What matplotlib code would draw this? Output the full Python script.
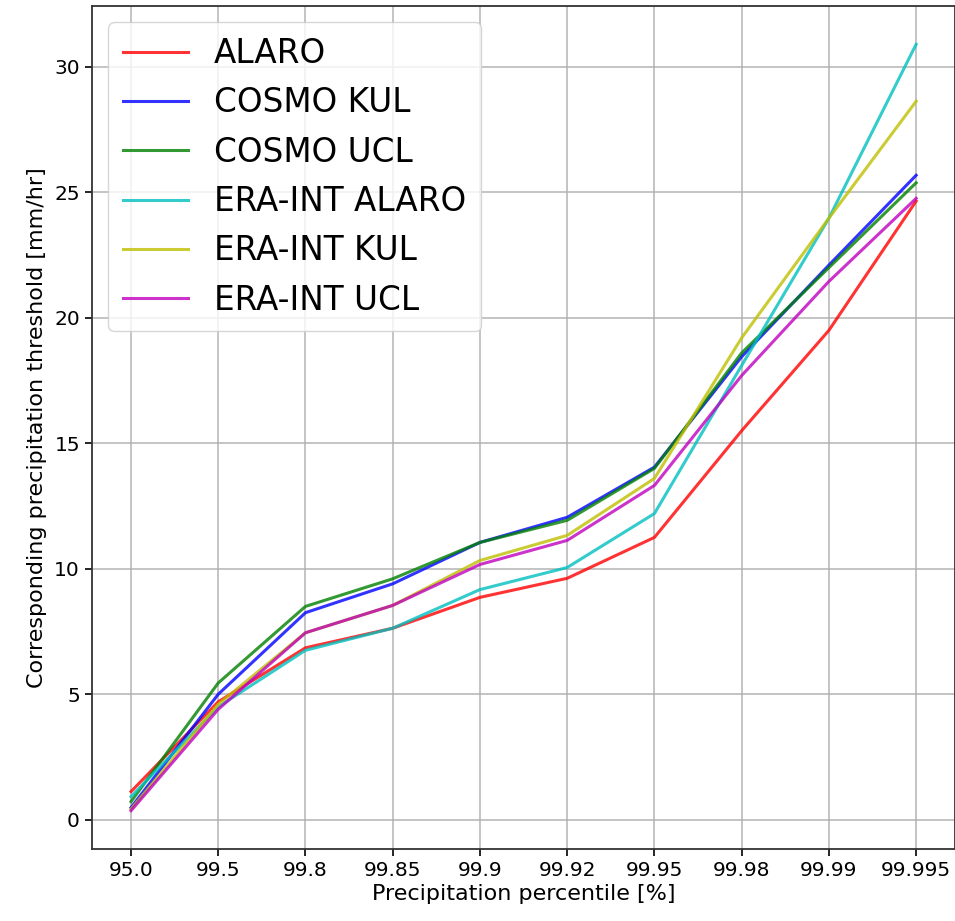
import numpy as np
import matplotlib
matplotlib.use("Agg")
import matplotlib.pyplot as plt

# Percentile categories (x axis) and thresholds per model [mm/hr]
percentiles = ["95.0", "99.5", "99.8", "99.85", "99.9", "99.92", "99.95", "99.98", "99.99", "99.995"]

alaro = [1.12, 4.7, 6.85, 7.63, 8.86, 9.62, 11.25, 15.5, 19.5, 24.65]
cosmo_kul = [0.48, 5.0, 8.25, 9.4, 11.05, 12.05, 14.05, 18.45, 22.1, 25.68]
cosmo_ucl = [0.72, 5.45, 8.5, 9.6, 11.05, 11.93, 14.0, 18.6, 22.0, 25.38]
era_alaro = [0.92, 4.5, 6.75, 7.63, 9.17, 10.05, 12.2, 18.1, 23.97, 30.9]
era_kul = [0.42, 4.6, 7.45, 8.54, 10.33, 11.33, 13.6, 19.2, 23.97, 28.63]
era_ucl = [0.36, 4.4, 7.45, 8.54, 10.17, 11.13, 13.32, 17.7, 21.45, 24.76]

series = [
    ("ALARO", alaro, "r"),
    ("COSMO KUL", cosmo_kul, "b"),
    ("COSMO UCL", cosmo_ucl, "g"),
    ("ERA-INT ALARO", era_alaro, "c"),
    ("ERA-INT KUL", era_kul, "y"),
    ("ERA-INT UCL", era_ucl, "m"),
]
classic = {"r": "#ff0000", "b": "#0000ff", "g": "#008000",
           "c": "#00bfbf", "y": "#bfbf00", "m": "#bf00bf"}

fig = plt.figure(figsize=(9.55, 9.21), dpi=100)
ax = fig.add_axes([0.0961, 0.0782, 0.9043, 0.9153])

x = np.arange(len(percentiles))
for name, vals, c in series:
    ax.plot(x, vals, color=classic[c], linewidth=2.2, alpha=0.8, label=name)

ax.set_xticks(x)
ax.set_xticklabels(percentiles)
ax.tick_params(labelsize=14.5, length=5, width=1.2)
ax.grid(True, color="#b0b0b0", linewidth=1.3, alpha=0.8)
for s in ax.spines.values():
    s.set_linewidth(1.3)
    s.set_color("#333333")

ax.set_xlabel("Precipitation percentile [%]", fontsize=16, labelpad=3)
ax.set_ylabel("Corresponding precipitation threshold [mm/hr]", fontsize=16, labelpad=5)

ax.legend(loc="upper left", fontsize=23.5, handlelength=2.0, framealpha=0.8,
          borderpad=0.45)

plt.savefig("out.png", dpi=100)
plt.close()
